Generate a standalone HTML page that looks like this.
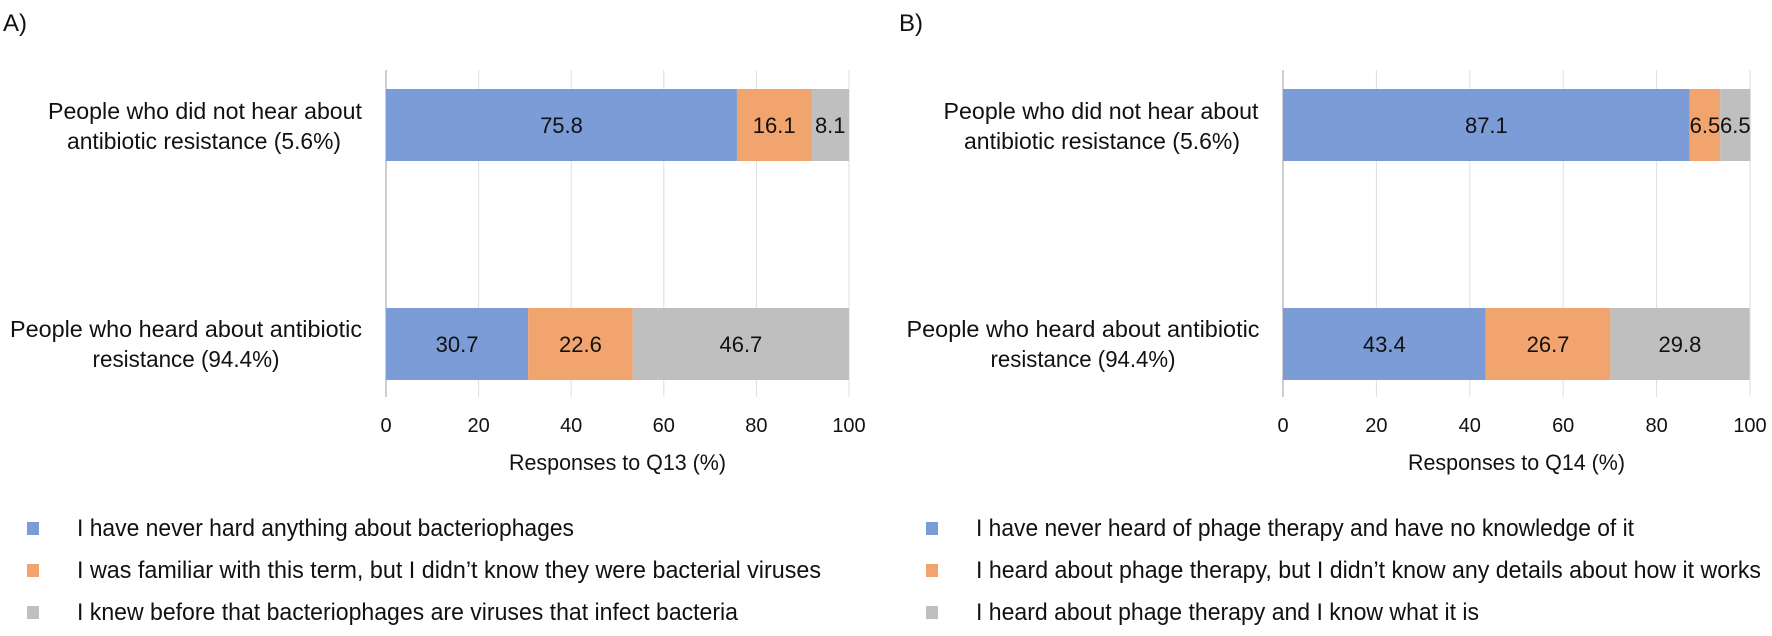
<!DOCTYPE html>
<html><head><meta charset="utf-8"><style>
html,body{margin:0;padding:0;background:#fff}
svg text{font-family:"Liberation Sans",sans-serif;fill:#111}
</style></head><body>
<svg id="c" width="1772" height="631" viewBox="0 0 1772 631" xmlns="http://www.w3.org/2000/svg"></svg>
<script>
const categories = ["People who did not hear about antibiotic resistance (5.6%)", "People who heard about antibiotic resistance (94.4%)"];
const seriesA_never = [75.8, 30.7];
const seriesA_familiar = [16.1, 22.6];
const seriesA_knew = [8.1, 46.7];
const seriesB_never = [87.1, 43.4];
const seriesB_heard = [6.5, 26.7];
const seriesB_know = [6.5, 29.8];
const ticks = [0, 20, 40, 60, 80, 100];
const legendA = ["I have never hard anything about bacteriophages", "I was familiar with this term, but I didn\u2019t know they were bacterial viruses", "I knew before that bacteriophages are viruses that infect bacteria"];
const legendB = ["I have never heard of phage therapy and have no knowledge of it", "I heard about phage therapy, but I didn\u2019t know any details about how it works", "I heard about phage therapy and I know what it is"];

const NS = "http://www.w3.org/2000/svg";
const svg = document.getElementById('c');
const colors = ["#7b9cd6", "#f2a46f", "#bfbfbf"];
function mk(tag, attrs, parent) {
  const e = document.createElementNS(NS, tag);
  for (const k in attrs) e.setAttribute(k, attrs[k]);
  (parent || svg).appendChild(e);
  return e;
}
function txt(s, x, y, anchor, size, len, parent) {
  const a = {x: x, y: y, 'text-anchor': anchor, 'font-size': size};
  if (len) { a.textLength = len; a.lengthAdjust = 'spacingAndGlyphs'; }
  const t = mk('text', a, parent);
  t.textContent = s;
  return t;
}

function panel(opt) {
  const g = mk('g', {});
  
  
  const x0 = opt.x0, x1 = opt.x1;
  const xs = v => x0 + (v / 100) * (x1 - x0);
  const barTop = [89, 308], barH = 72;
  ticks.forEach(t => {
    const l = mk('line', {x1: xs(t), x2: xs(t), y1: 70, y2: 397, stroke: t === 0 ? '#bdbdbd' : '#dedede', 'stroke-width': t === 0 ? 1.5 : 1}, g);
    
    
    const tl = txt(String(t), xs(t), 432, 'middle', 20, null, g);
    
    
  });
  const series = opt.series;
  categories.forEach((c, i) => {
    let acc = 0;
    series.forEach((s, j) => {
      const v = s[i];
      const r = mk('rect', {x: xs(acc), y: barTop[i], width: xs(acc + v) - xs(acc), height: barH, fill: colors[j]}, g);
      
      
      const lt = txt(v.toFixed(1), (xs(acc) + xs(acc + v)) / 2, barTop[i] + barH / 2 + 8, 'middle', 22, null, g);
      
      
      acc += v;
    });
  });
  opt.catLines.forEach((cl, i) => {
    cl.forEach((ln, k) => {
      const t = txt(ln[0], ln[1], [[119, 149], [337, 367]][i][k], 'middle', 23, ln[2], g);
      
      
    });
  });
  const at = txt(opt.title, (x0 + x1) / 2, 470, 'middle', 22, 217, g);
  
  
  const pl = txt(opt.letter, opt.letterX, 31, 'start', 24, null, g);
  
  
  opt.legend.forEach((s, j) => {
    const y = 528 + j * 42;
    const sq = mk('rect', {x: opt.legX, y: y - 6, width: 12, height: 13, fill: colors[j]}, g);
    
    
    const t = txt(s, opt.legX + 50, y + 8, 'start', 24, opt.legLens[j], g);
    
    
  });
}

panel({name: 'panel-a', key: 'a', x0: 386, x1: 849, letter: 'A)', letterX: 3,
  series: [seriesA_never, seriesA_familiar, seriesA_knew],
  catLines: [[["People who did not hear about", 205, 314], ["antibiotic resistance (5.6%)", 204, 274]],
             [["People who heard about antibiotic", 186, 352], ["resistance (94.4%)", 186, 187]]],
  title: 'Responses to Q13 (%)',
  legend: legendA, legX: 27, legLens: [497, 744, 661]});
panel({name: 'panel-b', key: 'b', x0: 1283, x1: 1750, letter: 'B)', letterX: 899,
  series: [seriesB_never, seriesB_heard, seriesB_know],
  catLines: [[["People who did not hear about", 1101, 315], ["antibiotic resistance (5.6%)", 1102, 276]],
             [["People who heard about antibiotic", 1083, 353], ["resistance (94.4%)", 1083, 185]]],
  title: 'Responses to Q14 (%)',
  legend: legendB, legX: 926, legLens: [658, 785, 503]});
</script>
</body></html>
